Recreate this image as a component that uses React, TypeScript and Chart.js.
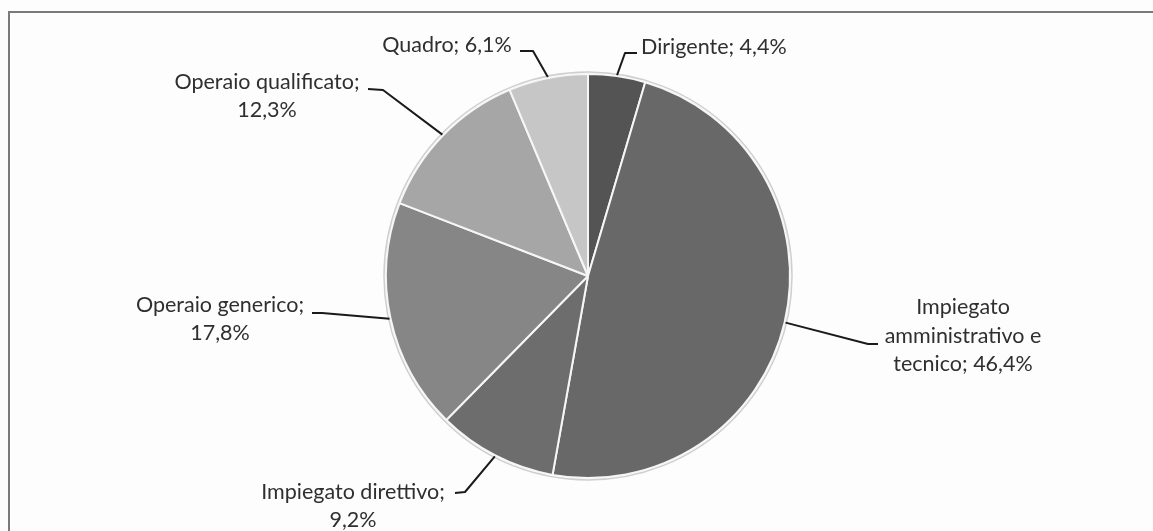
import React, { useEffect, useRef } from "react";
import { Chart, registerables } from "chart.js";

Chart.register(...registerables);

const categories = [
  "Dirigente",
  "Impiegato amministrativo e tecnico",
  "Impiegato direttivo",
  "Operaio generico",
  "Operaio qualificato",
  "Quadro",
];
const values = [4.4, 46.4, 9.2, 17.8, 12.3, 6.1];
const sliceColors = ["#545454", "#686868", "#6d6d6d", "#868686", "#a6a6a6", "#c6c6c6"];
const labelLines = [
  ["Dirigente; 4,4%"],
  ["Impiegato", "amministrativo e", "tecnico; 46,4%"],
  ["Impiegato direttivo;", "9,2%"],
  ["Operaio generico;", "17,8%"],
  ["Operaio qualificato;", "12,3%"],
  ["Quadro; 6,1%"],
];

// label placement relative to pie centre (pixels)
const labelLayout = [
  { tx: 53, ty: -229, align: "left", elbow: [37, -223], end: [49, -223] },
  { tx: 375, ty: 60, align: "center", elbow: [280, 68], end: [290, 68] },
  { tx: -235, ty: 230, align: "center", elbow: [-123, 216], end: [-133, 217] },
  { tx: -368, ty: 43, align: "center", elbow: [-266, 37], end: [-276, 37] },
  { tx: -321, ty: -180, align: "center", elbow: [-205, -186], end: [-220, -187] },
  { tx: -141, ty: -231, align: "center", elbow: [-55, -225], end: [-68, -225] },
];

const FONT = "21.5px Lato";
const LINE_H = 28.5;

const labelPlugin = {
  id: "leaderLabels",
  afterDatasetsDraw(chart: any) {
    const ctx = chart.ctx;
    const meta = chart.getDatasetMeta(0);
    const arcs = meta.data;
    if (!arcs.length) return;
    const cx = arcs[0].x;
    const cy = arcs[0].y;
    const R = arcs[0].outerRadius;
    ctx.save();
    // soft outline around the pie
    ctx.beginPath();
    ctx.arc(cx, cy, R + 2, 0, Math.PI * 2);
    ctx.strokeStyle = "rgba(150,150,150,0.45)";
    ctx.lineWidth = 1.5;
    ctx.stroke();

    arcs.forEach((arc: any, i: number) => {
      const lay = labelLayout[i];
      const mid = (arc.startAngle + arc.endAngle) / 2;
      const px = cx + Math.cos(mid) * (R + 1);
      const py = cy + Math.sin(mid) * (R + 1);
      ctx.beginPath();
      ctx.moveTo(px, py);
      ctx.lineTo(cx + lay.elbow[0], cy + lay.elbow[1]);
      ctx.lineTo(cx + lay.end[0], cy + lay.end[1]);
      ctx.strokeStyle = "#1a1a1a";
      ctx.lineWidth = 2;
      ctx.lineJoin = "round";
      ctx.stroke();

      const lines = labelLines[i];
      ctx.font = FONT;
      ctx.fillStyle = "#2f2f2f";
      ctx.textAlign = lay.align as CanvasTextAlign;
      ctx.textBaseline = "middle";
      const top = cy + lay.ty - ((lines.length - 1) * LINE_H) / 2;
      lines.forEach((ln, j) => {
        ctx.fillText(ln, cx + lay.tx, top + j * LINE_H);
      });
    });
    ctx.restore();
  },
};

export default function App() {
  const canvasRef = useRef<HTMLCanvasElement | null>(null);

  useEffect(() => {
    if (!canvasRef.current) return;
    const chart = new Chart(canvasRef.current, {
      type: "pie",
      data: {
        labels: categories,
        datasets: [
          {
            data: values,
            backgroundColor: sliceColors,
            borderColor: "#f6f6f6",
            borderWidth: 2,
          },
        ],
      },
      options: {
        responsive: true,
        maintainAspectRatio: false,
        animation: false,
        layout: { padding: { top: 73, bottom: 52, left: 200, right: 177 } },
        plugins: {
          legend: { display: false },
          tooltip: { enabled: false },
          title: { display: false },
        },
      },
      plugins: [labelPlugin],
    });
    return () => chart.destroy();
  }, []);

  return (
    <div
      style={{
        position: "absolute",
        left: 0,
        top: 0,
        width: 1153,
        height: 531,
        background: "#fdfdfd",
        overflow: "hidden",
      }}
    >
      <div
        style={{
          position: "absolute",
          left: 8,
          top: 11,
          width: 1200,
          height: 600,
          borderLeft: "2px solid #7a7a7a",
          borderTop: "2px solid #7a7a7a",
        }}
      />
      <div style={{ position: "absolute", left: 0, top: 0, width: 1153, height: 531 }}>
        <canvas ref={canvasRef} />
      </div>
    </div>
  );
}
